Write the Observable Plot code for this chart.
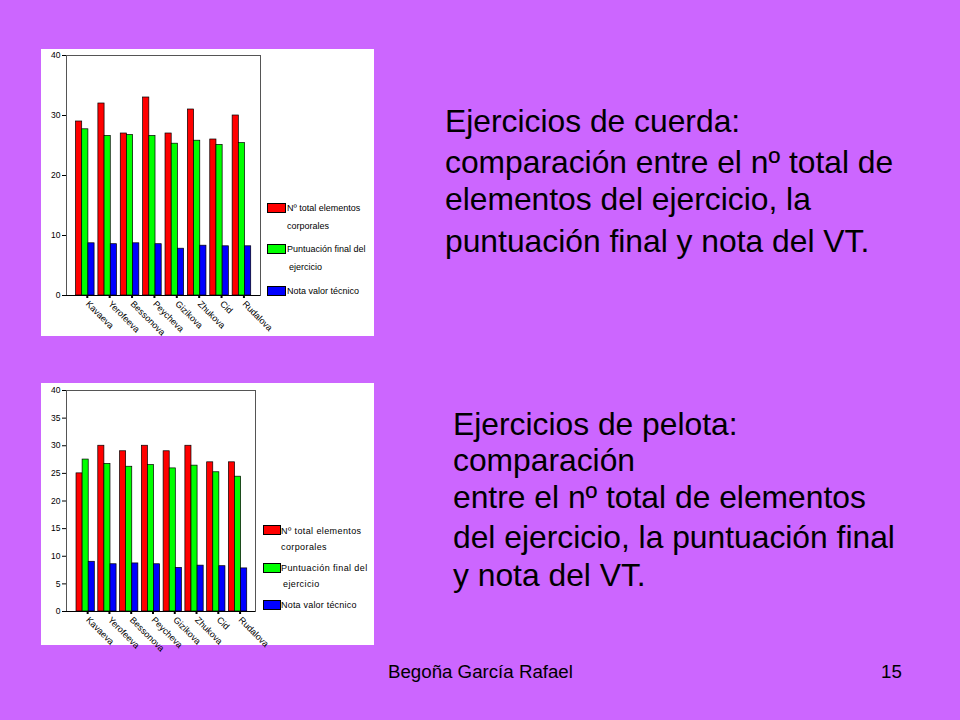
<!DOCTYPE html>
<html>
<head>
<meta charset="utf-8">
<script src="https://cdn.jsdelivr.net/npm/d3@7"></script>
<script src="https://cdn.jsdelivr.net/npm/@observablehq/plot@0.6"></script>
<style>
  html, body { margin: 0; padding: 0; }
  body { width: 960px; height: 720px; background: #CC66FF; position: relative; overflow: hidden;
         font-family: "Liberation Sans", Arial, sans-serif; color: #000; }
  .panel { position: absolute; background: #fff; }
  .panel svg { display: block; }
  .line { position: absolute; white-space: nowrap; line-height: 1; font-size: 31.8px; }
  .foot { position: absolute; white-space: nowrap; line-height: 1; font-size: 18.7px; }
  .sw { position: absolute; border: 1px solid #000; box-sizing: border-box; }
  .lt { position: absolute; white-space: nowrap; line-height: 10px; font-size: 9px; }
</style>
</head>
<body>
<script>
// ---- data ----
const names = ["Kavaeva", "Yerofeeva", "Bessonova", "Peycheva", "Gizikova", "Zhukova", "Cid", "Rudalova"];
const seriesNames = ["Nº total elementos corporales", "Puntuación final del ejercicio", "Nota valor técnico"];
const seriesColors = ["#ff0000", "#00ff00", "#0000ff"];

// Ejercicios de cuerda
const cuerdaTotal = [29, 32, 27, 33, 27, 31, 26, 30];
const cuerdaPuntuacion = [27.7, 26.6, 26.75, 26.6, 25.3, 25.8, 25.1, 25.4];
const cuerdaNota = [8.7, 8.55, 8.7, 8.55, 7.8, 8.3, 8.2, 8.2];
const cuerdaYTicks = [0, 10, 20, 30, 40];

// Ejercicios de pelota
const pelotaTotal = [25, 30, 29, 30, 29, 30, 27, 27];
const pelotaPuntuacion = [27.5, 26.7, 26.2, 26.5, 25.9, 26.4, 25.2, 24.4];
const pelotaNota = [9.0, 8.55, 8.7, 8.55, 7.9, 8.3, 8.2, 7.8];
const pelotaYTicks = [0, 5, 10, 15, 20, 25, 30, 35, 40];

function makeRows(seriesValues) {
  const rows = [];
  names.forEach((n, i) => seriesValues.forEach((vals, j) =>
    rows.push({name: n, i, j, series: seriesNames[j], value: vals[i]})));
  return rows;
}

function chart(seriesValues, yTicks, o) {
  const rows = makeRows(seriesValues);
  const gw = o.groupWidth, bw = gw / 3;
  return Plot.plot({
    width: o.width, height: o.height,
    marginLeft: o.ml, marginRight: o.mr, marginTop: o.mt, marginBottom: o.mb,
    style: {fontFamily: "'Liberation Sans', Arial, sans-serif", fontSize: "8px", color: "#000", background: "transparent", overflow: "visible"},
    x: {domain: o.xDomain},
    y: {domain: [0, 40]},
    color: {domain: seriesNames, range: seriesColors},
    marks: [
      Plot.rect(rows, {
        x1: d => d.i - gw / 2 + d.j * bw,
        x2: d => d.i - gw / 2 + (d.j + 1) * bw,
        y1: 0, y2: "value",
        fill: "series", stroke: "#000", strokeWidth: 0.7
      }),
      Plot.frame({stroke: "#555", strokeWidth: 1}),
      Plot.ruleY([0], {stroke: "#000", strokeWidth: 1}),
      Plot.axisY({ticks: yTicks, tickSize: 4, tickPadding: 2, label: null, fontSize: 8.5, stroke: "#000"}),
      Plot.axisX({ticks: d3.range(names.length), tickFormat: i => names[i], tickRotate: 45,
                  tickSize: 3, tickPadding: 4, dx: 2, strokeWidth: 2, label: null, fontSize: 9})
    ]
  });
}

function addDiv(cls, style, text) {
  const d = document.createElement("div");
  d.className = cls;
  Object.assign(d.style, style);
  if (text != null) d.textContent = text;
  document.body.appendChild(d);
  return d;
}

// panels
const p1 = addDiv("panel", {left: "41px", top: "49px", width: "333px", height: "287px"});
p1.appendChild(chart([cuerdaTotal, cuerdaPuntuacion, cuerdaNota], cuerdaYTicks,
  {width: 333, height: 287, ml: 25, mr: 114, mt: 6, mb: 41, xDomain: [-0.84, 7.83], groupWidth: 0.83}));

const p2 = addDiv("panel", {left: "41px", top: "383px", width: "333px", height: "262px"});
p2.appendChild(chart([pelotaTotal, pelotaPuntuacion, pelotaNota], pelotaYTicks,
  {width: 333, height: 262, ml: 25, mr: 119, mt: 7, mb: 34, xDomain: [-0.88, 7.8], groupWidth: 0.84}));

// legends
function legend(x, sw, swH, items) {
  items.forEach(it => {
    addDiv("sw", {left: x + "px", top: it.y + "px", width: sw + "px", height: swH + "px", background: it.color});
    it.lines.forEach(l => addDiv("lt", {left: l.x + "px", top: (l.cy - 5) + "px", letterSpacing: (l.ls || 0) + "px"}, l.t));
  });
}
legend(267, 19, 10, [
  {color: seriesColors[0], y: 203, lines: [{x: 287, cy: 207.5, t: "Nº total  elementos"}, {x: 287, cy: 226, t: "corporales"}]},
  {color: seriesColors[1], y: 244, lines: [{x: 287, cy: 249, t: "Puntuación final del"}, {x: 289, cy: 267, t: "ejercicio"}]},
  {color: seriesColors[2], y: 286, lines: [{x: 287, cy: 290.5, t: "Nota valor técnico"}]}
]);
legend(263, 18, 10, [
  {color: seriesColors[0], y: 525, lines: [{x: 281, cy: 530.5, t: "Nº  total elementos", ls: 0.4}, {x: 281, cy: 547, t: "corporales", ls: 0.4}]},
  {color: seriesColors[1], y: 563, lines: [{x: 281, cy: 568, t: "Puntuación final del", ls: 0.4}, {x: 283, cy: 583.5, t: "ejercicio", ls: 0.4}]},
  {color: seriesColors[2], y: 600, lines: [{x: 281, cy: 605, t: "Nota valor técnico", ls: 0.2}]}
]);

// slide text
const F = 31.8, asc = 0.8465 * F;
const topLines = [
  ["Ejercicios de cuerda:", 133],
  ["comparación entre el nº total de", 174],
  ["elementos del ejercicio, la", 211],
  ["puntuación final y nota del VT.", 253]
];
topLines.forEach(([t, b]) => addDiv("line", {left: "445px", top: (b - asc) + "px"}, t));
const botLines = [
  ["Ejercicios de pelota:", 436],
  ["comparación", 472],
  ["entre el nº total de elementos", 509],
  ["del ejercicio, la puntuación final", 549],
  ["y nota del VT.", 587]
];
botLines.forEach(([t, b]) => addDiv("line", {left: "453px", top: (b - asc) + "px"}, t));

const FF = 18.7, fasc = 0.8465 * FF;
addDiv("foot", {left: "388px", top: (679 - fasc) + "px"}, "Begoña García Rafael");
addDiv("foot", {left: "881px", top: (679 - fasc) + "px"}, "15");
</script>
</body>
</html>
